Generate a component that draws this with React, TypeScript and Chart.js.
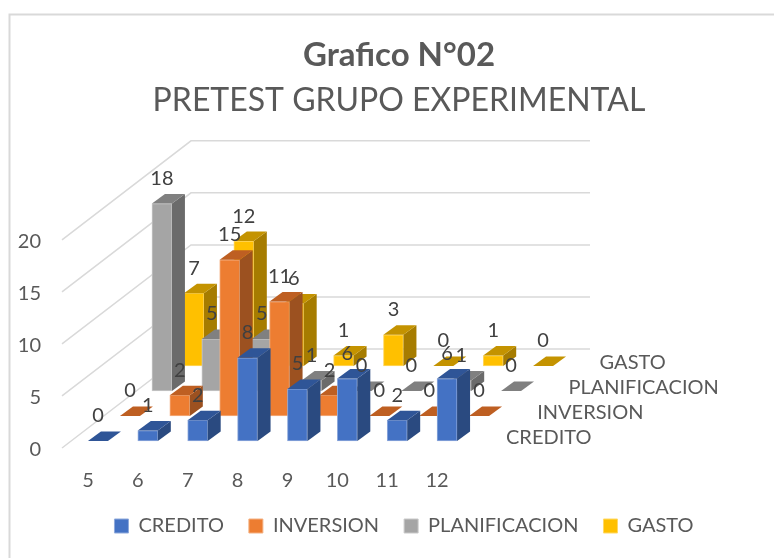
import React, { useEffect, useRef } from "react";
import { Chart, registerables } from "chart.js";

Chart.register(...registerables);

const categories = ["5", "6", "7", "8", "9", "10", "11", "12"];
const credito = [0, 1, 2, 8, 5, 6, 2, 6];
const inversion = [0, 2, 15, 11, 2, 0, 0, 0];
const planificacion = [18, 5, 5, 1, 0, 0, 1, 0];
const gasto = [7, 12, 6, 1, 3, 0, 1, 0];
const seriesNames = ["CREDITO", "INVERSION", "PLANIFICACION", "GASTO"];
const frontColors = ["#4472C4", "#ED7D31", "#A5A5A5", "#FFC000"];
const edgeColors = ["#8FAADC", "#F4B183", "#C9C9C9", "#FFD966"];
const topColors = ["#2F5597", "#BE5F22", "#808080", "#C49300"];
const sideColors = ["#2A4A80", "#9C5120", "#6B6B6B", "#A67C00"];

const FONT = "Lato, 'Open Sans', sans-serif";
const TEXT = "#595959";
const LABEL = "#404040";
const GRID = "#D9D9D9";
const BAR_W = 20;
const STEP_X = 32;
const STEP_Y = 25;
const START_X = 11;
const START_Y = 7;
const FACE_X = 13;
const FACE_Y = 9.5;
const WALL_X = 129;
const WALL_Y = 99;

const shiftX = (i: number) => START_X + STEP_X * i;
const shiftY = (i: number) => -START_Y - STEP_Y * i;

const walls = {
  id: "walls",
  beforeDatasetsDraw(chart: any) {
    const { ctx, chartArea, scales } = chart;
    const { left, right } = chartArea;
    ctx.save();
    ctx.strokeStyle = GRID;
    ctx.lineWidth = 1.5;
    for (const tick of scales.y.ticks) {
      const y = scales.y.getPixelForValue(tick.value);
      ctx.beginPath();
      ctx.moveTo(left, y);
      ctx.lineTo(left + WALL_X, y - WALL_Y);
      ctx.lineTo(right + WALL_X, y - WALL_Y);
      ctx.stroke();
    }
    ctx.restore();
  },
};

const frame = {
  id: "frame",
  beforeDraw(chart: any) {
    const { ctx, width, height } = chart;
    ctx.save();
    ctx.strokeStyle = GRID;
    ctx.lineWidth = 2;
    ctx.beginPath();
    ctx.moveTo(9.5, height);
    ctx.lineTo(9.5, 14.5);
    ctx.lineTo(width, 14.5);
    ctx.stroke();
    ctx.restore();
  },
};

const legendPlace = {
  id: "legendPlace",
  afterLayout(chart: any) {
    const legend = chart.legend;
    legend.top -= 3;
    legend.bottom -= 3;
    legend.left += 5;
    legend.right += 5;
  },
};

const depth = {
  id: "depth",
  beforeDatasetDraw(chart: any, args: any) {
    const i = args.index;
    chart.ctx.save();
    chart.ctx.translate(shiftX(i), shiftY(i));
  },
  afterDatasetDraw(chart: any, args: any) {
    const i = args.index;
    const ctx = chart.ctx;
    for (const bar of args.meta.data) {
      const l = bar.x - BAR_W / 2;
      const r = bar.x + BAR_W / 2;
      const t = bar.y;
      const b = bar.base;
      ctx.fillStyle = sideColors[i];
      ctx.beginPath();
      ctx.moveTo(r, t);
      ctx.lineTo(r + FACE_X, t - FACE_Y);
      ctx.lineTo(r + FACE_X, b - FACE_Y);
      ctx.lineTo(r, b);
      ctx.closePath();
      ctx.fill();
      ctx.fillStyle = topColors[i];
      ctx.beginPath();
      ctx.moveTo(l, t);
      ctx.lineTo(r, t);
      ctx.lineTo(r + FACE_X, t - FACE_Y);
      ctx.lineTo(l + FACE_X, t - FACE_Y);
      ctx.closePath();
      ctx.fill();
    }
    ctx.restore();
  },
};

const labels = {
  id: "labels3d",
  afterDatasetsDraw(chart: any) {
    const { ctx, chartArea, data } = chart;
    ctx.save();
    ctx.font = `20px ${FONT}`;
    ctx.textAlign = "center";
    ctx.textBaseline = "middle";
    ctx.fillStyle = LABEL;
    for (let i = data.datasets.length - 1; i >= 0; i--) {
      const meta = chart.getDatasetMeta(i);
      meta.data.forEach((bar: any, k: number) => {
        ctx.fillText(String(data.datasets[i].data[k]), bar.x + shiftX(i), bar.y + shiftY(i) - 25);
      });
    }
    ctx.fillStyle = TEXT;
    ctx.textAlign = "left";
    seriesNames.forEach((name, i) => {
      ctx.fillText(name, chartArea.right + 45 + (STEP_X - 0.8) * i, chartArea.bottom - 10 - STEP_Y * i);
    });
    ctx.restore();
  },
};

export default function App() {
  const ref = useRef<HTMLCanvasElement>(null);
  useEffect(() => {
    const values = [credito, inversion, planificacion, gasto];
    const chart = new Chart(ref.current as HTMLCanvasElement, {
      type: "bar",
      data: {
        labels: categories,
        datasets: seriesNames.map((name, i) => ({
          label: name,
          data: values[i],
          backgroundColor: frontColors[i],
          borderColor: edgeColors[i],
          borderWidth: 1,
          borderSkipped: false,
          barThickness: BAR_W,
          clip: false,
        })),
      },
      options: {
        animation: false,
        responsive: false,
        layout: { padding: { left: 8, right: -16, top: 0, bottom: 9 } },
        datasets: { bar: { grouped: false } },
        scales: {
          x: {
            grid: { display: false },
            border: { display: false },
            ticks: { font: { family: FONT, size: 20 }, color: TEXT, padding: 13, labelOffset: 1, maxRotation: 0, autoSkip: false },
            afterFit(s: any) { s.height = 46; },
          },
          y: {
            min: 0,
            max: 20,
            grid: { display: false, drawTicks: false },
            border: { display: false },
            ticks: { stepSize: 5, font: { family: FONT, size: 20 }, color: TEXT, padding: 21, labelOffset: 2 },
            afterFit(s: any) { s.width = 54; },
          },
          depthSpace: {
            type: "linear",
            position: "right",
            grid: { display: false, drawTicks: false },
            border: { display: false },
            ticks: { display: false },
            afterFit(s: any) { s.width = 329; },
          },
        },
        plugins: {
          title: {
            display: true,
            text: "Grafico N°02",
            color: TEXT,
            font: { family: FONT, size: 33, weight: "bold" },
            padding: { top: 36, bottom: 6 },
          },
          subtitle: {
            display: true,
            text: "PRETEST GRUPO EXPERIMENTAL",
            color: TEXT,
            font: { family: FONT, size: 32, weight: "normal" },
            padding: { top: 0, bottom: 119.8 },
          },
          legend: {
            position: "bottom",
            labels: {
              boxWidth: 14,
              boxHeight: 14,
              padding: 25,
              color: TEXT,
              font: { family: FONT, size: 20 },
            },
          },
          tooltip: { enabled: false },
        },
      } as any,
      plugins: [frame, walls, depth, labels, legendPlace],
    });
    return () => chart.destroy();
  }, []);
  return (
    <canvas
      ref={ref}
      width={774}
      height={558}
      style={{ position: "fixed", left: 0, top: 0, width: 774, height: 558, display: "block" }}
    />
  );
}
